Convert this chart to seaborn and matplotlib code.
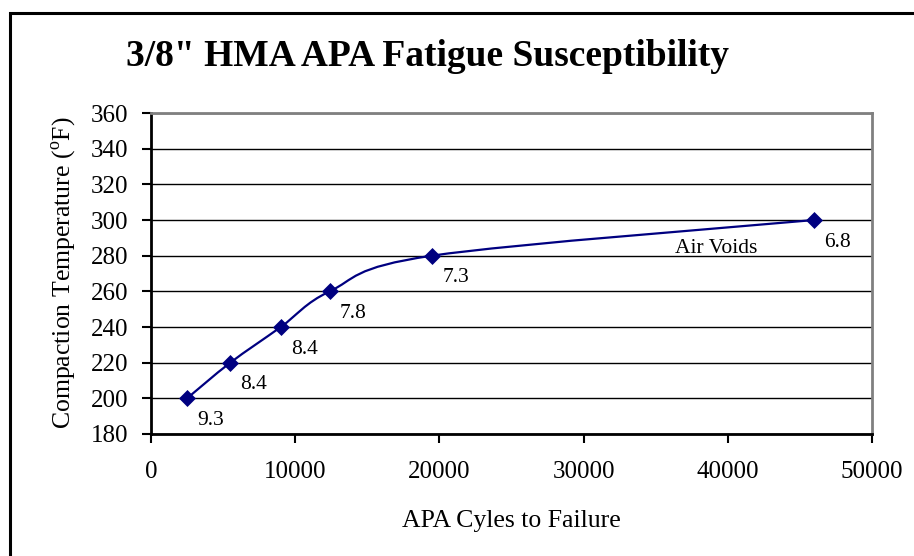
import matplotlib
matplotlib.use("Agg")
import matplotlib.pyplot as plt
import seaborn as sns
import numpy as np
import pandas as pd
from matplotlib.path import Path
from matplotlib.patches import PathPatch, Rectangle

# Data
cycles = [2500, 5500, 9000, 12400, 19500, 46000]
temps = [200, 220, 240, 260, 280, 300]
air_voids = ["9.3", "8.4", "8.4", "7.8", "7.3", "6.8"]

x_ticks = [0, 10000, 20000, 30000, 40000, 50000]
y_ticks = [180, 200, 220, 240, 260, 280, 300, 320, 340, 360]

title = '3/8" HMA APA Fatigue Susceptibility'
x_label = "APA Cyles to Failure"
y_label = "Compaction Temperature ($^{\\rm o}$F)"

sns.set_style("white")
plt.rcParams['font.family'] = ['Liberation Serif', 'DejaVu Serif']
plt.rcParams['mathtext.fontset'] = 'custom'
plt.rcParams['mathtext.rm'] = 'Liberation Serif'
plt.rcParams['text.color'] = 'black'
plt.rcParams['axes.labelcolor'] = 'black'
plt.rcParams['xtick.color'] = 'black'
plt.rcParams['ytick.color'] = 'black'
plt.rcParams['xtick.bottom'] = True
plt.rcParams['ytick.left'] = True

navy = '#000080'

fig = plt.figure(figsize=(9.14, 5.56), dpi=100)
ax = fig.add_axes([151 / 914, 1 - 434 / 556, (872 - 151) / 914, (434 - 113) / 556])

# smoothed line (Catmull-Rom style bezier, like spreadsheet "smoothed line")
px = np.array(cycles, dtype=float)
py = np.array(temps, dtype=float)
verts = [(px[0], py[0])]
codes = [Path.MOVETO]
n = len(px)
for i in range(n - 1):
    p0 = (px[max(i - 1, 0)], py[max(i - 1, 0)])
    p1 = (px[i], py[i])
    p2 = (px[i + 1], py[i + 1])
    p3 = (px[min(i + 2, n - 1)], py[min(i + 2, n - 1)])
    c1 = (p1[0] + (p2[0] - p0[0]) / 6, p1[1] + (p2[1] - p0[1]) / 6)
    c2 = (p2[0] - (p3[0] - p1[0]) / 6, p2[1] - (p3[1] - p1[1]) / 6)
    verts += [c1, c2, p2]
    codes += [Path.CURVE4] * 3
ax.add_patch(PathPatch(Path(verts, codes), facecolor='none', edgecolor=navy, lw=1.6, zorder=3))

df = pd.DataFrame({'cycles': cycles, 'temp': temps})
sns.scatterplot(data=df, x='cycles', y='temp', marker='D', s=75, color=navy,
                edgecolor=navy, linewidth=0, ax=ax, zorder=4)

for xv, yv, lab in zip(cycles, temps, air_voids):
    ax.annotate(lab, (xv, yv), xytext=(17, -16), textcoords='offset points',
                ha='center', va='center', fontsize=15.5)
ax.text(39200, 284.0, 'Air Voids', ha='center', va='center', fontsize=15.5)

ax.set_xlim(0, 50000)
ax.set_ylim(180, 360)
ax.set_xticks(x_ticks)
ax.set_yticks(y_ticks)
ax.tick_params(axis='both', labelsize=18, direction='out', length=6.5, width=1.5, color='black')
ax.tick_params(axis='x', pad=13)
ax.tick_params(axis='y', pad=10)
ax.yaxis.grid(True, color='black', lw=1)
ax.xaxis.grid(False)
ax.set_axisbelow(True)
for side in ['left', 'bottom']:
    ax.spines[side].set_color('black')
    ax.spines[side].set_linewidth(2)
for side in ['top', 'right']:
    ax.spines[side].set_color('#808080')
    ax.spines[side].set_linewidth(2)
ax.set_xlabel('')
ax.set_ylabel('')

fig.text(427 / 914, 1 - 57 / 556, title, ha='center', va='center', fontsize=27, fontweight='bold')
fig.text(511 / 914, 1 - 521 / 556, x_label, ha='center', va='center', fontsize=18.5)
fig.text(64 / 914, 1 - 273 / 556, y_label, ha='center', va='center', rotation=90, fontsize=18.5)

# outer chart frame
fig.patches.append(Rectangle((10 / 914, -0.1), 2, 1 - 13 / 556 + 0.1, transform=fig.transFigure,
                             fill=False, edgecolor='black', lw=2.2, figure=fig))

fig.savefig('out.png', dpi=100, facecolor='white')
